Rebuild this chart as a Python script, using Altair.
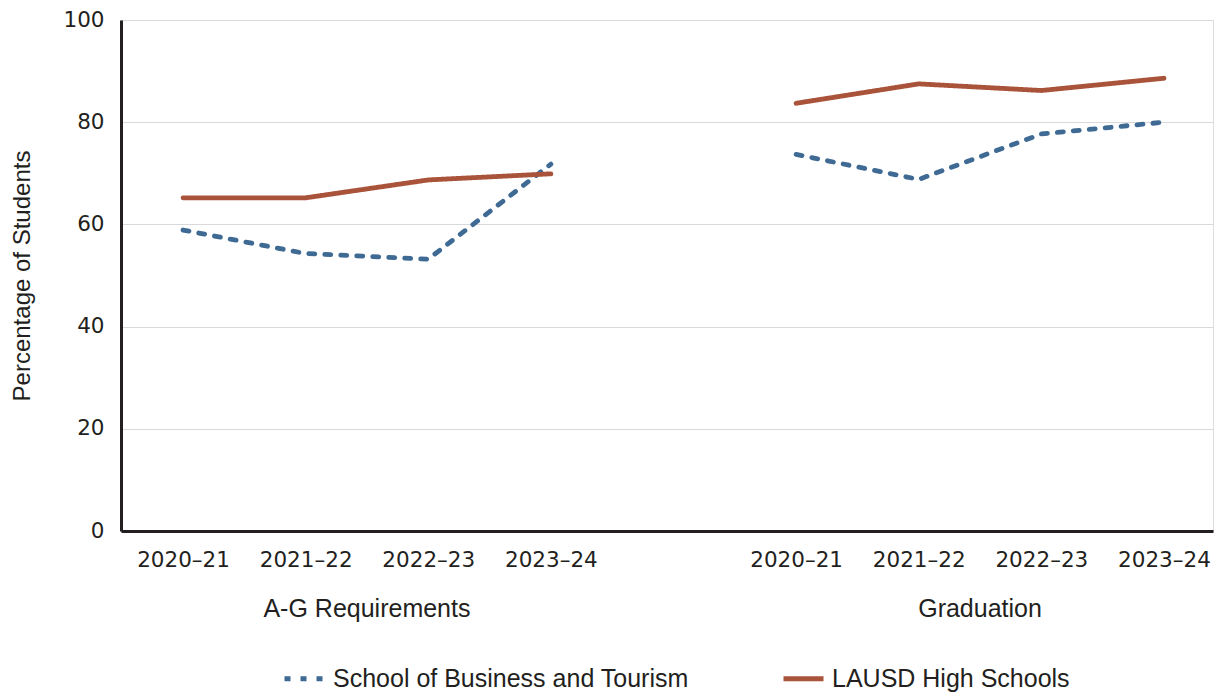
import altair as alt
import pandas as pd

years = ["2020–21", "2021–22", "2022–23", "2023–24"]
groups = ["A-G Requirements", "Graduation"]
series = ["School of Business and Tourism", "LAUSD High Schools"]

school_ag = [58.9, 54.3, 53.2, 71.8]
lausd_ag = [65.2, 65.2, 68.7, 69.9]
school_grad = [73.7, 68.8, 77.7, 80.0]
lausd_grad = [83.7, 87.5, 86.2, 88.6]

y_ticks = [0, 20, 40, 60, 80, 100]

values = {
    (groups[0], series[0]): school_ag,
    (groups[0], series[1]): lausd_ag,
    (groups[1], series[0]): school_grad,
    (groups[1], series[1]): lausd_grad,
}

rows = []
for gi, g in enumerate(groups):
    for s in series:
        for yi, yr in enumerate(years):
            rows.append({"group": g, "series": s, "year": yr,
                         "pos": gi * (len(years) + 1) + yi,
                         "value": values[(g, s)][yi]})
df = pd.DataFrame(rows)

label_list = years + [""] + years
label_expr = "[" + ",".join("'" + t + "'" for t in label_list) + "][datum.value]"
tick_pos = [i for i, t in enumerate(label_list) if t]

grp_df = pd.DataFrame({"group": groups,
                       "pos": [gi * (len(years) + 1) + (len(years) - 1) / 2 for gi in range(len(groups))]})

W, H = 1092, 511
xscale = alt.Scale(domain=[-0.506, 8.40], nice=False, zero=False)

lines = alt.Chart(df).mark_line(strokeWidth=4.8, strokeCap="round", strokeJoin="round").encode(
    x=alt.X("pos:Q", scale=xscale,
            axis=alt.Axis(values=tick_pos, labelExpr=label_expr, title=None, grid=False,
                          ticks=False, domainColor="#231f20", domainWidth=3,
                          labelPadding=18, labelFont="DejaVu Sans", labelFontSize=21.5,
                          labelColor="#231f20", labelFlush=False, labelOverlap=False)),
    y=alt.Y("value:Q", scale=alt.Scale(domain=[0, 100], nice=False),
            axis=alt.Axis(values=y_ticks, title="Percentage of Students", ticks=False,
                          domainColor="#231f20", domainWidth=3,
                          labelPadding=17, labelFont="DejaVu Sans", labelFontSize=21.5,
                          labelColor="#231f20",
                          titleFont="Liberation Sans", titleFontSize=24,
                          titleFontWeight="normal", titleColor="#231f20",
                          titlePadding=28, gridColor="#d9d9d9", gridWidth=1.2)),
    color=alt.Color("series:N", scale=alt.Scale(domain=series, range=["#3e6a94", "#a9533a"]),
                    legend=alt.Legend(title=None, orient="none", direction="horizontal",
                                      legendX=161, legendY=636,
                                      symbolType="stroke", symbolSize=1600, symbolStrokeWidth=5,
                                      labelFont="Liberation Sans", labelFontSize=25,
                                      labelColor="#231f20", labelOffset=6, labelLimit=500,
                                      columnPadding=84)),
    strokeDash=alt.StrokeDash("series:N", scale=alt.Scale(domain=series, range=[[6, 10], [1, 0]]),
                              legend=None),
    detail="group:N",
    order=alt.Order("pos:Q"),
)

glabels = alt.Chart(grp_df).mark_text(font="Liberation Sans", fontSize=25, color="#231f20",
                                     baseline="middle", align="center").encode(
    x=alt.X("pos:Q", scale=xscale),
    y=alt.value(H + 78),
    text="group:N",
)

chart = alt.layer(lines, glabels).properties(
    width=W, height=H,
    autosize=alt.AutoSizeParams(type="none"),
    padding={"left": 121, "top": 20, "right": 1, "bottom": 161},
).configure_view(stroke=None).configure(background="white")

chart.save("out.html", embed_options={"renderer": "svg", "actions": False})
